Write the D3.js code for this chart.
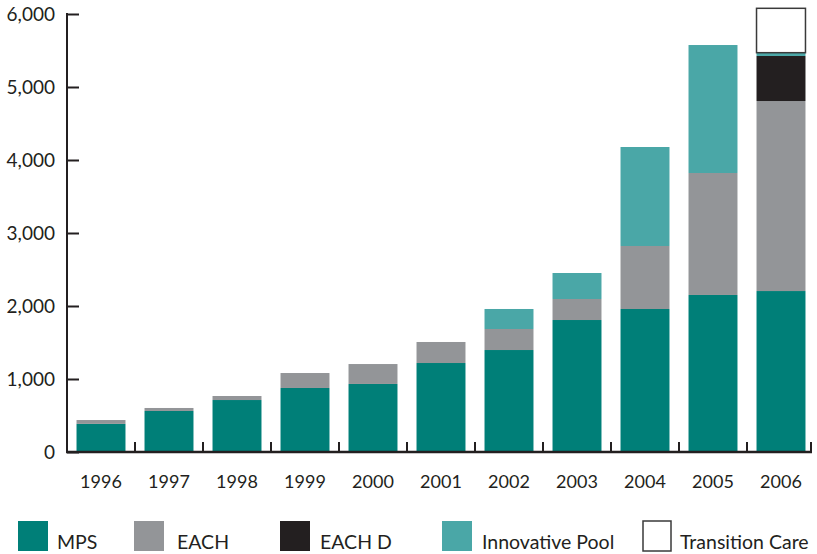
<!DOCTYPE html>
<html>
<head>
<meta charset="utf-8">
<script src="https://cdn.jsdelivr.net/npm/d3@7"></script>
<style>
  html, body { margin: 0; padding: 0; background: #ffffff; }
  svg { display: block; }
  text { font-family: Lato, "Open Sans", sans-serif; fill: #231f20; }
</style>
</head>
<body>
<svg id="chart" width="817" height="554"></svg>
<script>
// Funded places by program, 1996–2006
const years = ["1996", "1997", "1998", "1999", "2000", "2001", "2002", "2003", "2004", "2005", "2006"];
const mps        = [385, 562, 712, 877, 932, 1219, 1397, 1808, 1959, 2151, 2205];
const eachPlaces = [53, 41, 55, 205, 273, 288, 288, 288, 863, 1671, 2603];
const eachD      = [0, 0, 0, 0, 0, 0, 0, 0, 0, 0, 617];
const innovative = [0, 0, 0, 0, 0, 0, 274, 356, 1356, 1753, 45];
const transition = [0, 0, 0, 0, 0, 0, 0, 0, 0, 0, 608];
const yTicks = [0, 1000, 2000, 3000, 4000, 5000, 6000];

const seriesNames = ["MPS", "EACH", "EACH D", "Innovative Pool", "Transition Care"];
const seriesValues = [mps, eachPlaces, eachD, innovative, transition];
const colors = ["#007f78", "#939598", "#231f20", "#4aa7a7", "#ffffff"];

const rows = years.map((y, i) => {
  const r = { year: y };
  seriesNames.forEach((n, k) => { r[n] = seriesValues[k][i]; });
  return r;
});

const svg = d3.select("#chart");
const x0 = 67, x1 = 815, yBase = 452, yTop = 14;

const x = d3.scaleBand().domain(years).range([x0, x1]).paddingInner(0.28).paddingOuter(0.14);
const y = d3.scaleLinear().domain([0, 6000]).range([yBase, yTop]);

const stacked = d3.stack().keys(seriesNames)(rows);
const color = d3.scaleOrdinal().domain(seriesNames).range(colors);

// stacked bars
svg.append("g").selectAll("g")
  .data(stacked)
  .join("g")
  .attr("fill", d => color(d.key))
  .attr("stroke", d => d.key === "Transition Care" ? "#3a3a3a" : "none")
  .attr("stroke-width", 1.5)
  .selectAll("rect")
  .data(d => d.filter(s => s[1] - s[0] > 0))
  .join("rect")
  .attr("x", d => x(d.data.year))
  .attr("width", x.bandwidth())
  .attr("y", d => y(d[1]))
  .attr("height", d => y(d[0]) - y(d[1]));

// y axis: line with inward ticks, labels on the left
const yAxis = svg.append("g").attr("transform", `translate(${x0},0)`)
  .call(d3.axisRight(y).tickValues(yTicks).tickSize(12).tickFormat(""));
yAxis.select(".domain").remove();
yAxis.selectAll("line").attr("stroke", "#231f20").attr("stroke-width", 2);
svg.append("line")
  .attr("x1", x0).attr("x2", x0).attr("y1", y(6000) - 1).attr("y2", yBase + 1)
  .attr("stroke", "#231f20").attr("stroke-width", 2);
svg.append("g").selectAll("text")
  .data(yTicks)
  .join("text")
  .attr("x", 55)
  .attr("y", d => y(d))
  .attr("dy", "0.35em")
  .attr("text-anchor", "end")
  .attr("font-size", 19)
  .text(d => d3.format(",")(d));

// x axis: baseline with upward ticks between categories
const step = x.step();
const boundaries = years.slice(1).map(yr => x(yr) - (step - x.bandwidth()) / 2);
boundaries.push(811);
svg.append("line")
  .attr("x1", x0 - 1).attr("x2", 812).attr("y1", yBase).attr("y2", yBase)
  .attr("stroke", "#231f20").attr("stroke-width", 2.5);
svg.append("g").selectAll("line")
  .data(boundaries)
  .join("line")
  .attr("x1", d => d).attr("x2", d => d)
  .attr("y1", yBase).attr("y2", yBase - 10)
  .attr("stroke", "#231f20").attr("stroke-width", 2);
svg.append("g").selectAll("text")
  .data(years)
  .join("text")
  .attr("x", d => x(d) + x.bandwidth() / 2)
  .attr("y", 488)
  .attr("text-anchor", "middle")
  .attr("font-size", 18)
  .text(d => d);

// legend
const legendX = [18, 134, 280, 442, 642];
const legend = svg.append("g").selectAll("g")
  .data(seriesNames)
  .join("g")
  .attr("transform", (d, i) => `translate(${legendX[i]},521)`);
legend.append("rect")
  .attr("width", d => d === "Transition Care" ? 28 : 30)
  .attr("height", 30)
  .attr("x", d => d === "Transition Care" ? 1 : 0)
  .attr("fill", d => color(d))
  .attr("stroke", d => d === "Transition Care" ? "#3a3a3a" : "none")
  .attr("stroke-width", 1.5);
legend.append("text")
  .attr("x", (d, i) => [39, 43, 40, 40, 38][i])
  .attr("y", 28)
  .attr("font-size", 19.5)
  .text(d => d);
</script>
</body>
</html>
